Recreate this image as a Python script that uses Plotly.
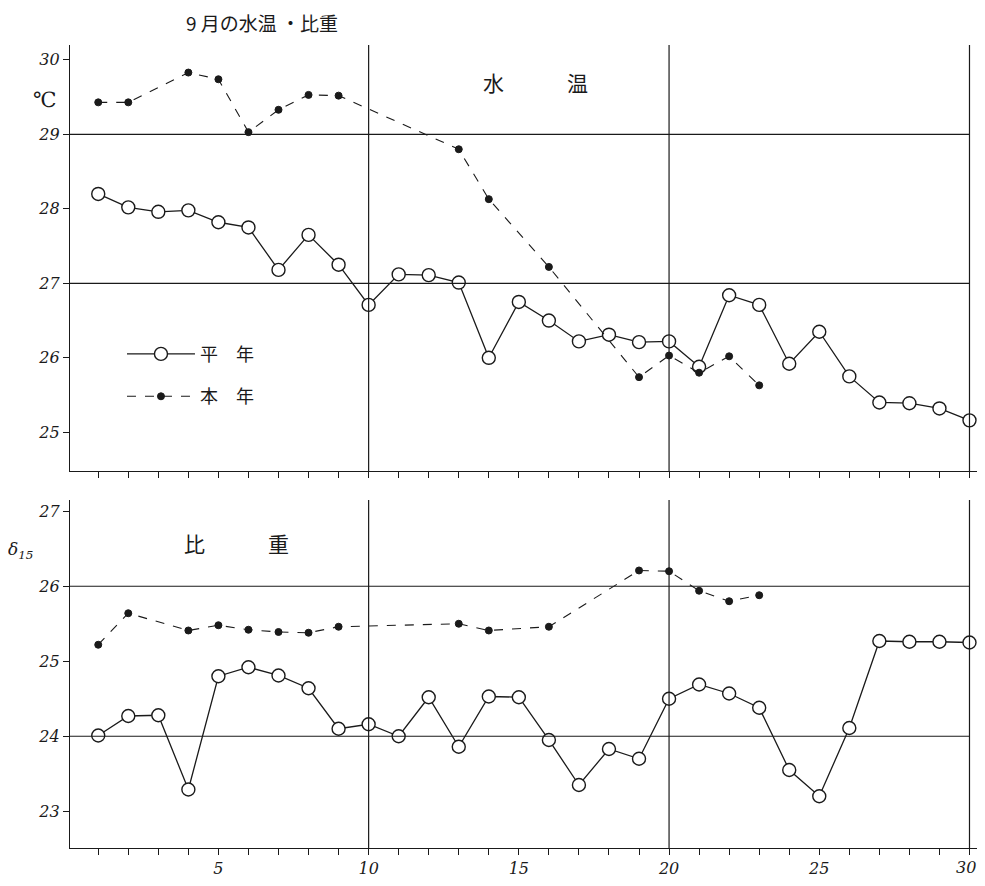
import plotly.graph_objects as go
from plotly.subplots import make_subplots

days = list(range(1, 31))

# 水温 (°C)
temp_normal = [28.20, 28.02, 27.96, 27.98, 27.82, 27.75, 27.18, 27.65, 27.25, 26.71,
               27.12, 27.11, 27.01, 26.00, 26.75, 26.50, 26.22, 26.31, 26.21, 26.22,
               25.88, 26.84, 26.71, 25.92, 26.35, 25.75, 25.40, 25.39, 25.32, 25.16]
temp_this = [29.43, 29.43, None, 29.83, 29.74, 29.03, 29.33, 29.53, 29.52, None,
             None, None, 28.80, 28.13, None, 27.22, None, None, 25.74, 26.03,
             25.80, 26.02, 25.63, None, None, None, None, None, None, None]

# 比重 (δ15)
sg_normal = [24.01, 24.27, 24.28, 23.29, 24.80, 24.92, 24.81, 24.64, 24.10, 24.16,
             24.00, 24.52, 23.86, 24.53, 24.52, 23.95, 23.35, 23.83, 23.70, 24.50,
             24.69, 24.57, 24.38, 23.55, 23.20, 24.11, 25.27, 25.26, 25.26, 25.25]
sg_this = [25.22, 25.64, None, 25.41, 25.48, 25.42, 25.39, 25.38, 25.46, None,
           None, None, 25.50, 25.41, None, 25.46, None, None, 26.21, 26.20,
           25.94, 25.80, 25.88, None, None, None, None, None, None, None]

temp_ticks = [25, 26, 27, 28, 29, 30]
sg_ticks = [23, 24, 25, 26, 27]
x_ticks = [5, 10, 15, 20, 25, 30]

INK = "#1a1a1a"
CJK = "Noto Sans CJK JP"
TICKFONT = dict(family="DejaVu Serif", size=16, color=INK, style="italic")

fig = make_subplots(rows=2, cols=1, shared_xaxes=False, vertical_spacing=0.03)

normal_style = dict(mode="lines+markers", cliponaxis=False,
                    line=dict(color=INK, width=1.3),
                    marker=dict(symbol="circle", size=13, color="white",
                                line=dict(color=INK, width=1.4)))
this_style = dict(mode="lines+markers", connectgaps=True, cliponaxis=False,
                  line=dict(color=INK, width=1.1, dash="dash"),
                  marker=dict(symbol="circle", size=7, color=INK,
                              line=dict(color=INK, width=1)))

fig.add_trace(go.Scatter(x=days, y=temp_normal, name="平　年", legendgroup="a",
                         **normal_style), row=1, col=1)
fig.add_trace(go.Scatter(x=days, y=temp_this, name="本　年", legendgroup="b",
                         **this_style), row=1, col=1)
fig.add_trace(go.Scatter(x=days, y=sg_this, showlegend=False, **this_style), row=2, col=1)
fig.add_trace(go.Scatter(x=days, y=sg_normal, showlegend=False, **normal_style), row=2, col=1)

axis_common = dict(showgrid=False, zeroline=False, showline=True, linecolor=INK,
                   linewidth=1.3, ticks="outside", tickcolor=INK, ticklen=6,
                   tickfont=TICKFONT)
minor_x = dict(tick0=0, dtick=1, ticks="outside", ticklen=6, tickcolor=INK, showgrid=False)

XR = [0.06, 30.25]
fig.update_xaxes(range=XR, tickmode="array", tickvals=x_ticks,
                 showticklabels=False, minor=minor_x, row=1, col=1, **axis_common)
# the last label (30) sits at the right edge, so it is written as an annotation below
fig.update_xaxes(range=XR, tickmode="array", tickvals=x_ticks[:-1],
                 minor=minor_x, row=2, col=1, **axis_common)
fig.update_yaxes(range=[24.48, 30.2], tickmode="array", tickvals=temp_ticks,
                 row=1, col=1, **axis_common)
fig.update_yaxes(range=[22.51, 27.15], tickmode="array", tickvals=sg_ticks,
                 row=2, col=1, **axis_common)

fig.update_layout(
    yaxis=dict(domain=[0.4695, 1.0]),
    yaxis2=dict(domain=[0.0, 0.4334]),
)

shapes = []
for ref_x, ref_y, hlines in (("x", "y", [29, 27]), ("x2", "y2", [26, 24])):
    for v in hlines:
        shapes.append(dict(type="line", xref=ref_x, yref=ref_y,
                           x0=XR[0], x1=30, y0=v, y1=v, line=dict(color=INK, width=1.2)))
    for v in (10, 20, 30):
        shapes.append(dict(type="line", xref=ref_x, yref=ref_y + " domain",
                           x0=v, x1=v, y0=0, y1=1, line=dict(color=INK, width=1.2)))
fig.update_layout(shapes=shapes)

annotations = [
    dict(text="9 月の水温 ・比重", x=0.2117, y=1.0274, font=dict(size=19, family=CJK)),
    dict(text="℃", x=-0.0276, y=0.9315, font=dict(size=21, family="DejaVu Serif")),
    dict(text="水　　　温", x=0.5127, y=0.954, font=dict(size=21, family=CJK)),
    dict(text="比　　　重", x=0.1841, y=0.380, font=dict(size=21, family=CJK)),
    dict(text="<i>δ<sub>15</sub></i>", x=-0.0551, y=0.371,
         font=dict(size=17, family="DejaVu Serif")),
]
for a in annotations:
    a.update(xref="paper", yref="paper", showarrow=False, xanchor="center",
             yanchor="middle")
    a["font"]["color"] = INK
annotations.append(dict(text=str(x_ticks[-1]), xref="x2", yref="paper",
                        x=x_ticks[-1], y=0, xanchor="center", yanchor="top",
                        xshift=-3, yshift=-8, showarrow=False, font=dict(TICKFONT)))
fig.update_layout(annotations=annotations)

fig.update_layout(
    width=969, height=870,
    margin=dict(l=62, r=0, t=37, b=30),
    paper_bgcolor="white", plot_bgcolor="white",
    showlegend=True,
    legend=dict(x=0.0573, y=0.638, xanchor="left", yanchor="top",
                font=dict(size=18, family=CJK, color=INK),
                bgcolor="rgba(0,0,0,0)", tracegroupgap=16, itemwidth=68),
    font=dict(family=CJK, color=INK),
)

fig.write_html("out.html")
